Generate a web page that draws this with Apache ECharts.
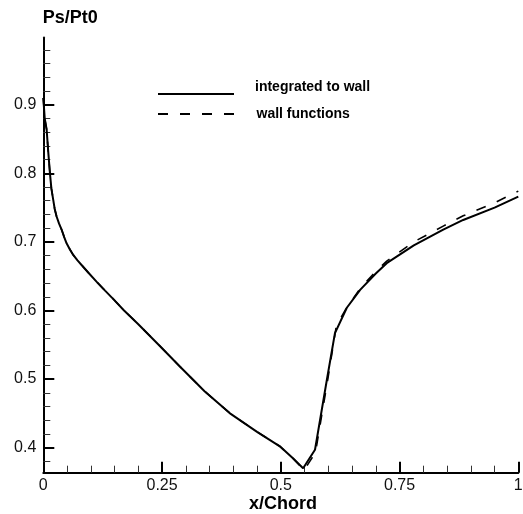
<!DOCTYPE html>
<html>
<head>
<meta charset="utf-8">
<script src="https://cdn.jsdelivr.net/npm/echarts@6/dist/echarts.min.js"></script>
<style>
html,body{margin:0;padding:0;background:#fff;}
#c{width:523px;height:514px;}
</style>
</head>
<body>
<div id="c"></div>
<script>
// ---- data ----
const integX = [0.000, 0.003, 0.007, 0.010, 0.014, 0.017, 0.021, 0.024, 0.028, 0.033, 0.039, 0.044, 0.049, 0.056, 0.063, 0.072, 0.081, 0.095, 0.112, 0.130, 0.147, 0.170, 0.200, 0.250, 0.288, 0.340, 0.393, 0.450, 0.498, 0.525, 0.547, 0.572, 0.597, 0.614, 0.639, 0.667, 0.700, 0.723, 0.780, 0.842, 0.884, 0.950, 1.000];
const integY = [0.910, 0.880, 0.864, 0.835, 0.800, 0.778, 0.761, 0.748, 0.737, 0.727, 0.717, 0.707, 0.698, 0.689, 0.681, 0.673, 0.666, 0.655, 0.642, 0.629, 0.617, 0.600, 0.580, 0.545, 0.518, 0.482, 0.450, 0.423, 0.402, 0.385, 0.370, 0.397, 0.499, 0.567, 0.604, 0.630, 0.654, 0.669, 0.695, 0.718, 0.732, 0.750, 0.766];

const wallX = [0.000, 0.003, 0.007, 0.010, 0.014, 0.017, 0.021, 0.024, 0.028, 0.033, 0.039, 0.044, 0.049, 0.056, 0.063, 0.072, 0.081, 0.095, 0.112, 0.130, 0.147, 0.170, 0.200, 0.250, 0.288, 0.340, 0.393, 0.450, 0.498, 0.525, 0.549, 0.573, 0.599, 0.617, 0.637, 0.667, 0.700, 0.723, 0.780, 0.842, 0.884, 0.950, 1.000];
const wallY = [0.910, 0.880, 0.864, 0.835, 0.800, 0.778, 0.761, 0.748, 0.737, 0.727, 0.717, 0.707, 0.698, 0.689, 0.681, 0.673, 0.666, 0.655, 0.642, 0.629, 0.617, 0.600, 0.580, 0.545, 0.518, 0.482, 0.450, 0.423, 0.402, 0.385, 0.367, 0.393, 0.500, 0.578, 0.602, 0.632, 0.657, 0.672, 0.700, 0.723, 0.738, 0.757, 0.774];

const xMajor = [0, 0.25, 0.5, 0.75, 1];
const xMinor = [0.05, 0.1, 0.15, 0.2, 0.3, 0.35, 0.4, 0.45, 0.55, 0.6, 0.65, 0.7, 0.8, 0.85, 0.9, 0.95];
const yMajor = [0.4, 0.5, 0.6, 0.7, 0.8, 0.9];
const yMinor = [0.38, 0.42, 0.44, 0.46, 0.48, 0.52, 0.54, 0.56, 0.58, 0.62, 0.64, 0.66, 0.68, 0.72, 0.74, 0.76, 0.78, 0.82, 0.84, 0.86, 0.88, 0.92, 0.94, 0.96, 0.98];

const seriesNames = ['integrated to wall', 'wall functions'];
const X_MIN = 0, X_MAX = 1, Y_MIN = 0.3635, Y_MAX = 0.998;

const zip = (a, b) => a.map((v, i) => [v, b[i]]);
const FONT = 'Liberation Sans, Arial, sans-serif';

const chart = echarts.init(document.getElementById('c'), null, {renderer: 'canvas'});

const baseX = {
  type: 'value', min: X_MIN, max: X_MAX, gridIndex: 0, position: 'bottom',
  splitLine: {show: false}
};
const baseY = {
  type: 'value', min: Y_MIN, max: Y_MAX, gridIndex: 0, position: 'left',
  splitLine: {show: false}
};

chart.setOption({
  animation: false,
  backgroundColor: '#fff',
  grid: {left: 43.3, right: 4.7, top: 37.5, bottom: 41.3, containLabel: false, outerBoundsMode: 'none'},
  xAxis: [
    Object.assign({}, baseX, {
      axisLine: {show: true, onZero: false, lineStyle: {color: '#000', width: 2}},
      axisTick: {show: true, inside: true, length: 11, customValues: xMajor, lineStyle: {color: '#000', width: 2}},
      axisLabel: {show: true, customValues: xMajor, margin: 5, color: '#111', fontSize: 16, fontFamily: FONT,
        formatter: v => String(v), showMinLabel: true, showMaxLabel: true}
    }),
    Object.assign({}, baseX, {
      axisLine: {show: false, onZero: false},
      axisTick: {show: true, inside: true, length: 7, customValues: xMinor, lineStyle: {color: '#333', width: 1}},
      axisLabel: {show: false}
    })
  ],
  yAxis: [
    Object.assign({}, baseY, {
      axisLine: {show: true, onZero: false, lineStyle: {color: '#000', width: 2}},
      axisTick: {show: true, inside: true, length: 11, customValues: yMajor, lineStyle: {color: '#000', width: 2}},
      axisLabel: {show: true, customValues: yMajor, margin: 7, color: '#111', fontSize: 16, fontFamily: FONT,
        formatter: v => String(v)}
    }),
    Object.assign({}, baseY, {
      axisLine: {show: false, onZero: false},
      axisTick: {show: true, inside: true, length: 7, customValues: yMinor, lineStyle: {color: '#333', width: 1}},
      axisLabel: {show: false}
    })
  ],
  legend: [
    {
      data: [seriesNames[0]], left: 157, top: 80.6, padding: 0, itemWidth: 76, itemHeight: 14,
      selectedMode: false,
      itemStyle: {opacity: 0},
      formatter: name => name + '\n ',
      textStyle: {fontSize: 14, fontWeight: 'bold', color: '#000', fontFamily: FONT, lineHeight: 13, padding: [0, 0, 0, 16]}
    },
    {
      data: [seriesNames[1]], left: 157, top: 107, padding: 0, itemWidth: 76, itemHeight: 14,
      selectedMode: false,
      itemStyle: {opacity: 0},
      textStyle: {fontSize: 14, fontWeight: 'bold', color: '#000', fontFamily: FONT, padding: [0, 0, 3, 17.5]}
    }
  ],
  graphic: [
    {type: 'text', left: 42.7, top: 9.5, style: {text: 'Ps/Pt0', font: 'bold 18px ' + FONT, fill: '#000'}},
    {type: 'text', left: 249, top: 495, style: {text: 'x/Chord', font: 'bold 18px ' + FONT, fill: '#000'}}
  ],
  series: [
    {
      name: seriesNames[0], type: 'line', xAxisIndex: 0, yAxisIndex: 0,
      data: zip(integX, integY), showSymbol: false, symbol: 'none', smooth: false,
      lineStyle: {color: '#000', width: 2, type: 'solid'}, itemStyle: {color: '#000'}
    },
    {
      name: seriesNames[1], type: 'line', xAxisIndex: 0, yAxisIndex: 0,
      data: zip(wallX, wallY), showSymbol: false, symbol: 'none', smooth: false,
      lineStyle: {color: '#000', width: 1.6, type: [10, 12]}, itemStyle: {color: '#000'}
    }
  ]
});
</script>
</body>
</html>
